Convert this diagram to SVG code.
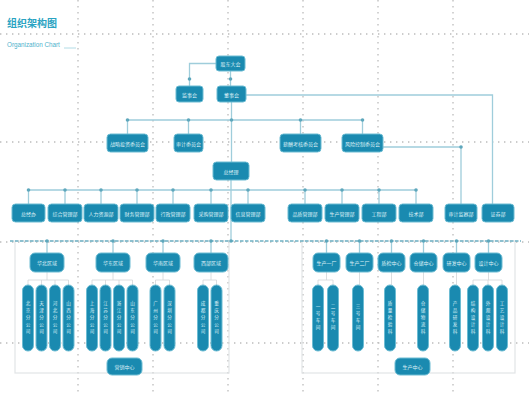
<svg xmlns="http://www.w3.org/2000/svg" width="529" height="395" viewBox="0 0 529 395">
<style>
.bg{fill:#ffffff}
.grid{stroke:#bcbcbc;stroke-width:1.3;stroke-dasharray:1.4 4.6;fill:none}
.frame{fill:none;stroke:#e2e4e6;stroke-width:1.2}
.c{stroke:#9fcddb;stroke-width:1.3;fill:none}
.cd{stroke:#6fb1c4;stroke-width:1.4;stroke-dasharray:3.5 1.5;fill:none}
.br{stroke:#d2d6d8;stroke-width:0.8;fill:none}
.dot{fill:#5ea7bc}
.box{fill:#1a8ab0;stroke:#6cbcd3;stroke-width:1}
.t{font-family:"Noto Sans CJK SC","Noto Sans",sans-serif;font-size:5px;fill:#dff1f7;text-anchor:middle;dominant-baseline:central}
.v{font-family:"Noto Sans CJK SC","Noto Sans",sans-serif;font-size:4.6px;fill:#dff1f7;text-anchor:middle;letter-spacing:2.4px}
.title{font-family:"Noto Sans CJK SC","Noto Sans",sans-serif;font-size:10px;font-weight:bold;fill:#2aa3c2}
.sub{font-family:"Liberation Sans",sans-serif;font-size:6.3px;fill:#4fb2cc}
</style>
<rect class="bg" x="0" y="0" width="529" height="395"/>
<g id="grid">
<path class="grid" d="M78,0V395M153,0V395M228,0V395M303,0V395M378,0V395M453,0V395M0,34H529M0,142H529M0,242H529M0,343H529"/>
</g>
<g id="title">
<text class="title" x="7" y="27">组织架构图</text>
<text class="sub" x="7" y="47">Organization Chart</text>
<line x1="64" y1="48" x2="76" y2="48" stroke="#9fd3e0" stroke-width="0.8"/>
</g>
<g id="frames">
<rect class="frame" x="15" y="241" width="214" height="132"/>
<rect class="frame" x="302" y="241" width="213" height="132"/>
</g>
<g id="connectors">
<path class="c" d="M216,63.5H189.5V86M230.5,71V86M246,95H492.5V204M231.5,102V162M127.5,120H362.5M127.5,120V134M188.5,120V134M300.5,120V134M362.5,120V134M383,147H461V204M231,180V241M28.5,190H416M28.5,190V204M65,190V204M101,190V204M137,190V204M173,190V204M211,190V204M248,190V204M305,190V204M342,190V204M379,190V204M416,190V204"/>
<path class="cd" d="M10,241H521"/>
<path class="c" d="M47,241V253M113,241V253M163,241V253M211,241V253M326.5,241V253M359.5,241V253M391.5,241V253M423.5,241V253M456.5,241V253M488.5,241V253"/>
<path class="br" d="M47,272V280M28,280H68.5M28,280V285M41.5,280V285M55,280V285M68.5,280V285M113,272V280M92,280H132.5M92,280V285M105.5,280V285M119,280V285M132.5,280V285M163,272V280M155.5,280H169.5M155.5,280V285M169.5,280V285M211,272V280M203,280H216.5M203,280V285M216.5,280V285M326.5,272V280M318,280H333M318,280V285M333,280V285M359.5,272V285M391.5,272V285M423.5,272V285M456.5,272V285M488.5,272V280M473,280H502M473,280V285M488,280V285M502,280V285"/>
<g class="dot">
<circle cx="189.5" cy="79" r="1.8"/><circle cx="230.5" cy="79" r="1.8"/>
<circle cx="127.5" cy="120" r="1.8"/><circle cx="188.5" cy="120" r="1.8"/><circle cx="231.5" cy="120" r="1.8"/><circle cx="300.5" cy="120" r="1.8"/><circle cx="362.5" cy="120" r="1.8"/>
<circle cx="461" cy="147" r="1.8"/>
<circle cx="28.5" cy="190" r="1.8"/><circle cx="65" cy="190" r="1.8"/><circle cx="101" cy="190" r="1.8"/><circle cx="137" cy="190" r="1.8"/><circle cx="173" cy="190" r="1.8"/><circle cx="211" cy="190" r="1.8"/><circle cx="248" cy="190" r="1.8"/><circle cx="305" cy="190" r="1.8"/><circle cx="342" cy="190" r="1.8"/><circle cx="379" cy="190" r="1.8"/><circle cx="416" cy="190" r="1.8"/>
<circle cx="47" cy="241" r="1.8"/><circle cx="113" cy="241" r="1.8"/><circle cx="163" cy="241" r="1.8"/><circle cx="211" cy="241" r="1.8"/><circle cx="231" cy="241" r="1.8"/>
<circle cx="326.5" cy="241" r="1.8"/><circle cx="359.5" cy="241" r="1.8"/><circle cx="391.5" cy="241" r="1.8"/><circle cx="423.5" cy="241" r="1.8"/><circle cx="456.5" cy="241" r="1.8"/><circle cx="488.5" cy="241" r="1.8"/>
</g>
</g>
<g id="n_gddh"><rect class="box" x="216" y="56" width="29" height="15" rx="3"/><text class="t" x="230.5" y="63.5">股东大会</text></g>
<g id="n_jsh"><rect class="box" x="176" y="86" width="27" height="16" rx="3"/><text class="t" x="189.5" y="94">监事会</text></g>
<g id="n_dsh"><rect class="box" x="217" y="86" width="29" height="16" rx="3"/><text class="t" x="231.5" y="94">董事会</text></g>
<g id="n_zl"><rect class="box" x="107" y="134" width="41" height="18" rx="3.5"/><text class="t" x="127.5" y="143">战略投资委员会</text></g>
<g id="n_sj"><rect class="box" x="174" y="134" width="29" height="18" rx="3.5"/><text class="t" x="188.5" y="143">审计委员会</text></g>
<g id="n_xc"><rect class="box" x="280" y="134" width="41" height="18" rx="3.5"/><text class="t" x="300.5" y="143">薪酬考核委员会</text></g>
<g id="n_fx"><rect class="box" x="342" y="134" width="41" height="18" rx="3.5"/><text class="t" x="362.5" y="143">风险控制委员会</text></g>
<g id="n_zjl"><rect class="box" x="213" y="162" width="36" height="18" rx="3.5"/><text class="t" x="231" y="171">总经理</text></g>
<g id="n_d1"><rect class="box" x="12" y="204" width="33" height="18" rx="3.5"/><text class="t" x="28.5" y="213">总经办</text></g>
<g id="n_d2"><rect class="box" x="48" y="204" width="34" height="18" rx="3.5"/><text class="t" x="65" y="213">综合管理部</text></g>
<g id="n_d3"><rect class="box" x="84" y="204" width="34" height="18" rx="3.5"/><text class="t" x="101" y="213">人力资源部</text></g>
<g id="n_d4"><rect class="box" x="120" y="204" width="34" height="18" rx="3.5"/><text class="t" x="137" y="213">财务管理部</text></g>
<g id="n_d5"><rect class="box" x="156" y="204" width="34" height="18" rx="3.5"/><text class="t" x="173" y="213">行政管理部</text></g>
<g id="n_d6"><rect class="box" x="194" y="204" width="34" height="18" rx="3.5"/><text class="t" x="211" y="213">采购管理部</text></g>
<g id="n_d7"><rect class="box" x="231" y="204" width="34" height="18" rx="3.5"/><text class="t" x="248" y="213">信息管理部</text></g>
<g id="n_d8"><rect class="box" x="288" y="204" width="34" height="18" rx="3.5"/><text class="t" x="305" y="213">品质管理部</text></g>
<g id="n_d9"><rect class="box" x="325" y="204" width="34" height="18" rx="3.5"/><text class="t" x="342" y="213">生产管理部</text></g>
<g id="n_d10"><rect class="box" x="362" y="204" width="34" height="18" rx="3.5"/><text class="t" x="379" y="213">工程部</text></g>
<g id="n_d11"><rect class="box" x="399" y="204" width="34" height="18" rx="3.5"/><text class="t" x="416" y="213">技术部</text></g>
<g id="n_d12"><rect class="box" x="445" y="204" width="32" height="18" rx="3.5"/><text class="t" x="461" y="213">审计监察部</text></g>
<g id="n_d13"><rect class="box" x="482" y="204" width="32" height="18" rx="3.5"/><text class="t" x="498" y="213">证券部</text></g>
<g id="n_r1"><rect class="box" x="30" y="253" width="34" height="19" rx="5"/><text class="t" x="47" y="262.5">华北区域</text></g>
<g id="n_r2"><rect class="box" x="96" y="253" width="34" height="19" rx="5"/><text class="t" x="113" y="262.5">华东区域</text></g>
<g id="n_r3"><rect class="box" x="146" y="253" width="34" height="19" rx="5"/><text class="t" x="163" y="262.5">华南区域</text></g>
<g id="n_r4"><rect class="box" x="194" y="253" width="34" height="19" rx="5"/><text class="t" x="211" y="262.5">西部区域</text></g>
<g id="n_f1"><rect class="box" x="313" y="253" width="27" height="19" rx="5"/><text class="t" x="326.5" y="262.5">生产一厂</text></g>
<g id="n_f2"><rect class="box" x="346" y="253" width="27" height="19" rx="5"/><text class="t" x="359.5" y="262.5">生产二厂</text></g>
<g id="n_f3"><rect class="box" x="378" y="253" width="27" height="19" rx="5"/><text class="t" x="391.5" y="262.5">质检中心</text></g>
<g id="n_f4"><rect class="box" x="410" y="253" width="27" height="19" rx="5"/><text class="t" x="423.5" y="262.5">仓储中心</text></g>
<g id="n_f5"><rect class="box" x="443" y="253" width="27" height="19" rx="5"/><text class="t" x="456.5" y="262.5">研发中心</text></g>
<g id="n_f6"><rect class="box" x="475" y="253" width="27" height="19" rx="5"/><text class="t" x="488.5" y="262.5">设计中心</text></g>
<g id="n_p1"><rect class="box" x="22.5" y="285" width="11" height="66" rx="5.5"/><text class="v" x="28" y="318" writing-mode="tb">北京分公司</text></g>
<g id="n_p2"><rect class="box" x="36" y="285" width="11" height="66" rx="5.5"/><text class="v" x="41.5" y="318" writing-mode="tb">天津分公司</text></g>
<g id="n_p3"><rect class="box" x="49.5" y="285" width="11" height="66" rx="5.5"/><text class="v" x="55" y="318" writing-mode="tb">河北分公司</text></g>
<g id="n_p4"><rect class="box" x="63" y="285" width="11" height="66" rx="5.5"/><text class="v" x="68.5" y="318" writing-mode="tb">山西分公司</text></g>
<g id="n_p5"><rect class="box" x="86.5" y="285" width="11" height="66" rx="5.5"/><text class="v" x="92" y="318" writing-mode="tb">上海分公司</text></g>
<g id="n_p6"><rect class="box" x="100" y="285" width="11" height="66" rx="5.5"/><text class="v" x="105.5" y="318" writing-mode="tb">江苏分公司</text></g>
<g id="n_p7"><rect class="box" x="113.5" y="285" width="11" height="66" rx="5.5"/><text class="v" x="119" y="318" writing-mode="tb">浙江分公司</text></g>
<g id="n_p8"><rect class="box" x="127" y="285" width="11" height="66" rx="5.5"/><text class="v" x="132.5" y="318" writing-mode="tb">山东分公司</text></g>
<g id="n_p9"><rect class="box" x="150" y="285" width="11" height="66" rx="5.5"/><text class="v" x="155.5" y="318" writing-mode="tb">广州分公司</text></g>
<g id="n_p10"><rect class="box" x="164" y="285" width="11" height="66" rx="5.5"/><text class="v" x="169.5" y="318" writing-mode="tb">深圳分公司</text></g>
<g id="n_p11"><rect class="box" x="197.5" y="285" width="11" height="66" rx="5.5"/><text class="v" x="203" y="318" writing-mode="tb">成都分公司</text></g>
<g id="n_p12"><rect class="box" x="211" y="285" width="11" height="66" rx="5.5"/><text class="v" x="216.5" y="318" writing-mode="tb">重庆分公司</text></g>
<g id="n_p13"><rect class="box" x="312.5" y="285" width="11" height="66" rx="5.5"/><text class="v" x="318" y="318" writing-mode="tb">一号车间</text></g>
<g id="n_p14"><rect class="box" x="327.5" y="285" width="11" height="66" rx="5.5"/><text class="v" x="333" y="318" writing-mode="tb">二号车间</text></g>
<g id="n_p15"><rect class="box" x="352.5" y="285" width="11" height="66" rx="5.5"/><text class="v" x="358" y="318" writing-mode="tb">三号车间</text></g>
<g id="n_p16"><rect class="box" x="384.5" y="285" width="11" height="66" rx="5.5"/><text class="v" x="390" y="318" writing-mode="tb">质量检验科</text></g>
<g id="n_p17"><rect class="box" x="417.5" y="285" width="11" height="66" rx="5.5"/><text class="v" x="423" y="318" writing-mode="tb">仓储物流科</text></g>
<g id="n_p18"><rect class="box" x="449.5" y="285" width="11" height="66" rx="5.5"/><text class="v" x="455" y="318" writing-mode="tb">产品研发科</text></g>
<g id="n_p19"><rect class="box" x="467.5" y="285" width="11" height="66" rx="5.5"/><text class="v" x="473" y="318" writing-mode="tb">结构设计科</text></g>
<g id="n_p20"><rect class="box" x="482.5" y="285" width="11" height="66" rx="5.5"/><text class="v" x="488" y="318" writing-mode="tb">外观设计科</text></g>
<g id="n_p21"><rect class="box" x="496.5" y="285" width="11" height="66" rx="5.5"/><text class="v" x="502" y="318" writing-mode="tb">工艺设计科</text></g>
<g id="n_yx"><rect class="box" x="107" y="358" width="35" height="17" rx="5"/><text class="t" x="124.5" y="366.5">营销中心</text></g>
<g id="n_sc"><rect class="box" x="395" y="358" width="35" height="17" rx="5"/><text class="t" x="412.5" y="366.5">生产中心</text></g>
</svg>
